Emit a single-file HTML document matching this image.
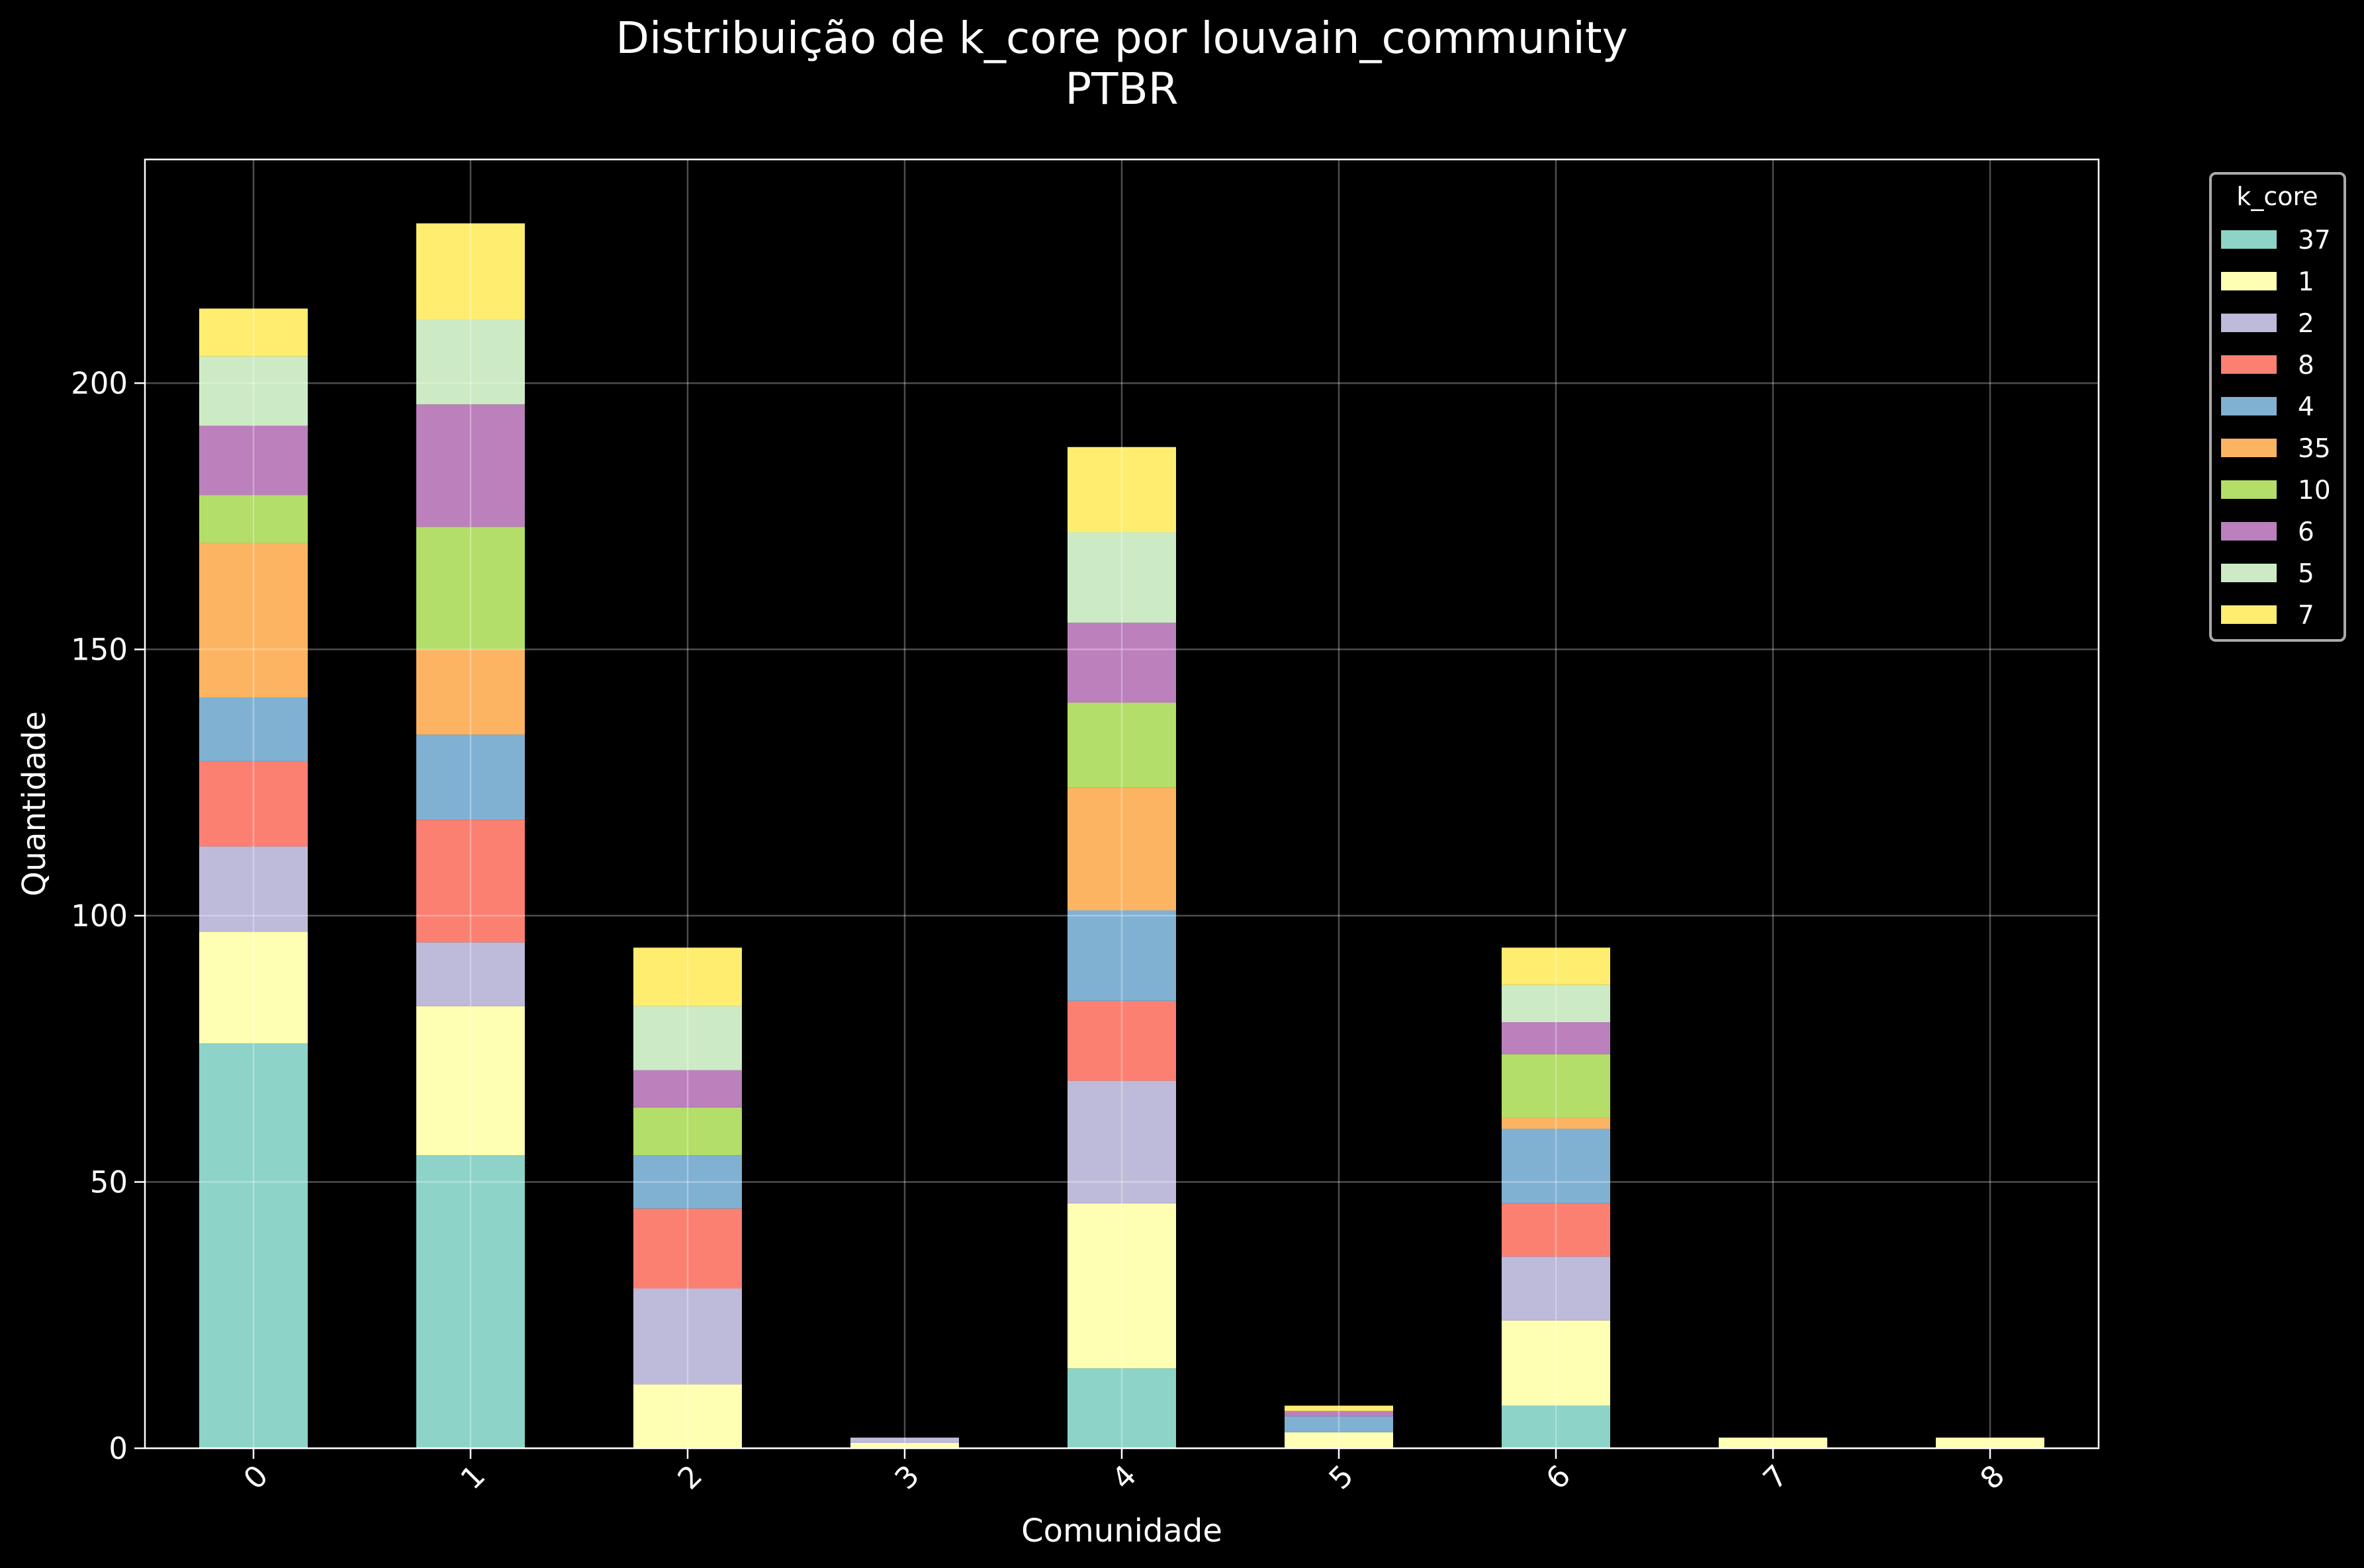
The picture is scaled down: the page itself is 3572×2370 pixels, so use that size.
<!DOCTYPE html>
<html><head><meta charset="utf-8"><style>
html,body{margin:0;padding:0;background:#000;}
svg{display:block;font-family:"DejaVu Sans","Liberation Sans",sans-serif;}
</style></head><body>
<svg id="chart" width="3572" height="2370" viewBox="0 0 3572 2370" xmlns="http://www.w3.org/2000/svg">
<rect x="0" y="0" width="3572" height="2370" fill="#000"/>
<text x="1695" y="80" font-size="66" fill="#fff" text-anchor="middle">Distribuição de k_core por louvain_community</text>
<text x="1695" y="157" font-size="66" fill="#fff" text-anchor="middle">PTBR</text>
<g id="bars"></g>
<g id="gridover"></g>
<rect x="219" y="241" width="2952" height="1948" fill="none" stroke="#fff" stroke-width="2.5"/>
<g id="axes"></g>
<text x="1695" y="2330" font-size="48" fill="#fff" text-anchor="middle">Comunidade</text>
<text transform="translate(68,1215) rotate(-90)" font-size="48" fill="#fff" text-anchor="middle">Quantidade</text>
<g id="legend"></g>
</svg>
<script>
const categories = ["0","1","2","3","4","5","6","7","8"];
const seriesNames = ["37","1","2","8","4","35","10","6","5","7"];
const s37 = [76,55,0,0,15,0,8,0,0];
const s1  = [21,28,12,1,31,3,16,2,2];
const s2  = [16,12,18,1,23,0,12,0,0];
const s8  = [16,23,15,0,15,0,10,0,0];
const s4  = [12,16,10,0,17,3,14,0,0];
const s35 = [29,16,0,0,23,0,2,0,0];
const s10 = [9,23,9,0,16,0,12,0,0];
const s6  = [13,23,7,0,15,1,6,0,0];
const s5  = [13,16,12,0,17,0,7,0,0];
const s7  = [9,18,11,0,16,1,7,0,0];
const yTicks = [0,50,100,150,200];
const colors = ["#8dd3c7","#ffffb3","#bebada","#fb8072","#80b1d3","#fdb462","#b3de69","#bc80bd","#ccebc5","#ffed6f"];
const series = [s37,s1,s2,s8,s4,s35,s10,s6,s5,s7];

const NS="http://www.w3.org/2000/svg";
const L=219,R=3171,T=241,B=2189,YMAX=242;
const y=v=>B-(v/YMAX)*(B-T);
const x=i=>383+i*328;
const BW=164;
function mk(tag,attrs,parent){const e=document.createElementNS(NS,tag);for(const k in attrs)e.setAttribute(k,attrs[k]);parent.appendChild(e);return e;}
const gGrid=document.getElementById('gridover'),gBars=document.getElementById('bars'),gAx=document.getElementById('axes'),gLeg=document.getElementById('legend');

categories.forEach((c,i)=>{
  let base=0;
  series.forEach((s,k)=>{
    const v=s[i]; if(!v){return;}
    const r=mk('rect',{x:x(i)-BW/2,y:y(base+v),width:BW,height:y(base)-y(base+v),fill:colors[k]},gBars);
    
    
    base+=v;
  });
  const gl=mk('line',{x1:x(i),x2:x(i),y1:T,y2:B,stroke:'#fff','stroke-opacity':0.3,'stroke-width':2.5},gGrid);
  
  
  const tk=mk('line',{x1:x(i),x2:x(i),y1:B,y2:B+16,stroke:'#fff','stroke-width':2.5},gAx);
  
  
  const t=mk('text',{transform:`translate(${x(i)+16},${B+36}) rotate(-45)`,'font-size':45,fill:'#fff','text-anchor':'end','dominant-baseline':'middle'},gAx);
  t.textContent=c;
  
  
});
yTicks.forEach(v=>{
  const gl=mk('line',{x1:L,x2:R,y1:y(v),y2:y(v),stroke:'#fff','stroke-opacity':0.3,'stroke-width':2.5},gGrid);
  
  
  const tk=mk('line',{x1:L-16,x2:L,y1:y(v),y2:y(v),stroke:'#fff','stroke-width':2.5},gAx);
  
  
  const t=mk('text',{x:L-26,y:y(v)+16,'font-size':45,fill:'#fff','text-anchor':'end'},gAx);
  t.textContent=v;
  
  
});
const box=mk('rect',{x:3340,y:262,width:203,height:706,rx:8,fill:'#000',stroke:'#aaa','stroke-width':4},gLeg);


const lt=mk('text',{x:3441,y:310,'font-size':38,fill:'#fff','text-anchor':'middle'},gLeg);
lt.textContent='k_core';


seriesNames.forEach((n,k)=>{
  const cy=362+k*63;
  const p=mk('rect',{x:3356,y:cy-14,width:84,height:28,fill:colors[k]},gLeg);
  
  
  const t=mk('text',{x:3472,y:cy+14,'font-size':39,fill:'#fff'},gLeg);
  t.textContent=n;
  
  
});
</script>
</body></html>
